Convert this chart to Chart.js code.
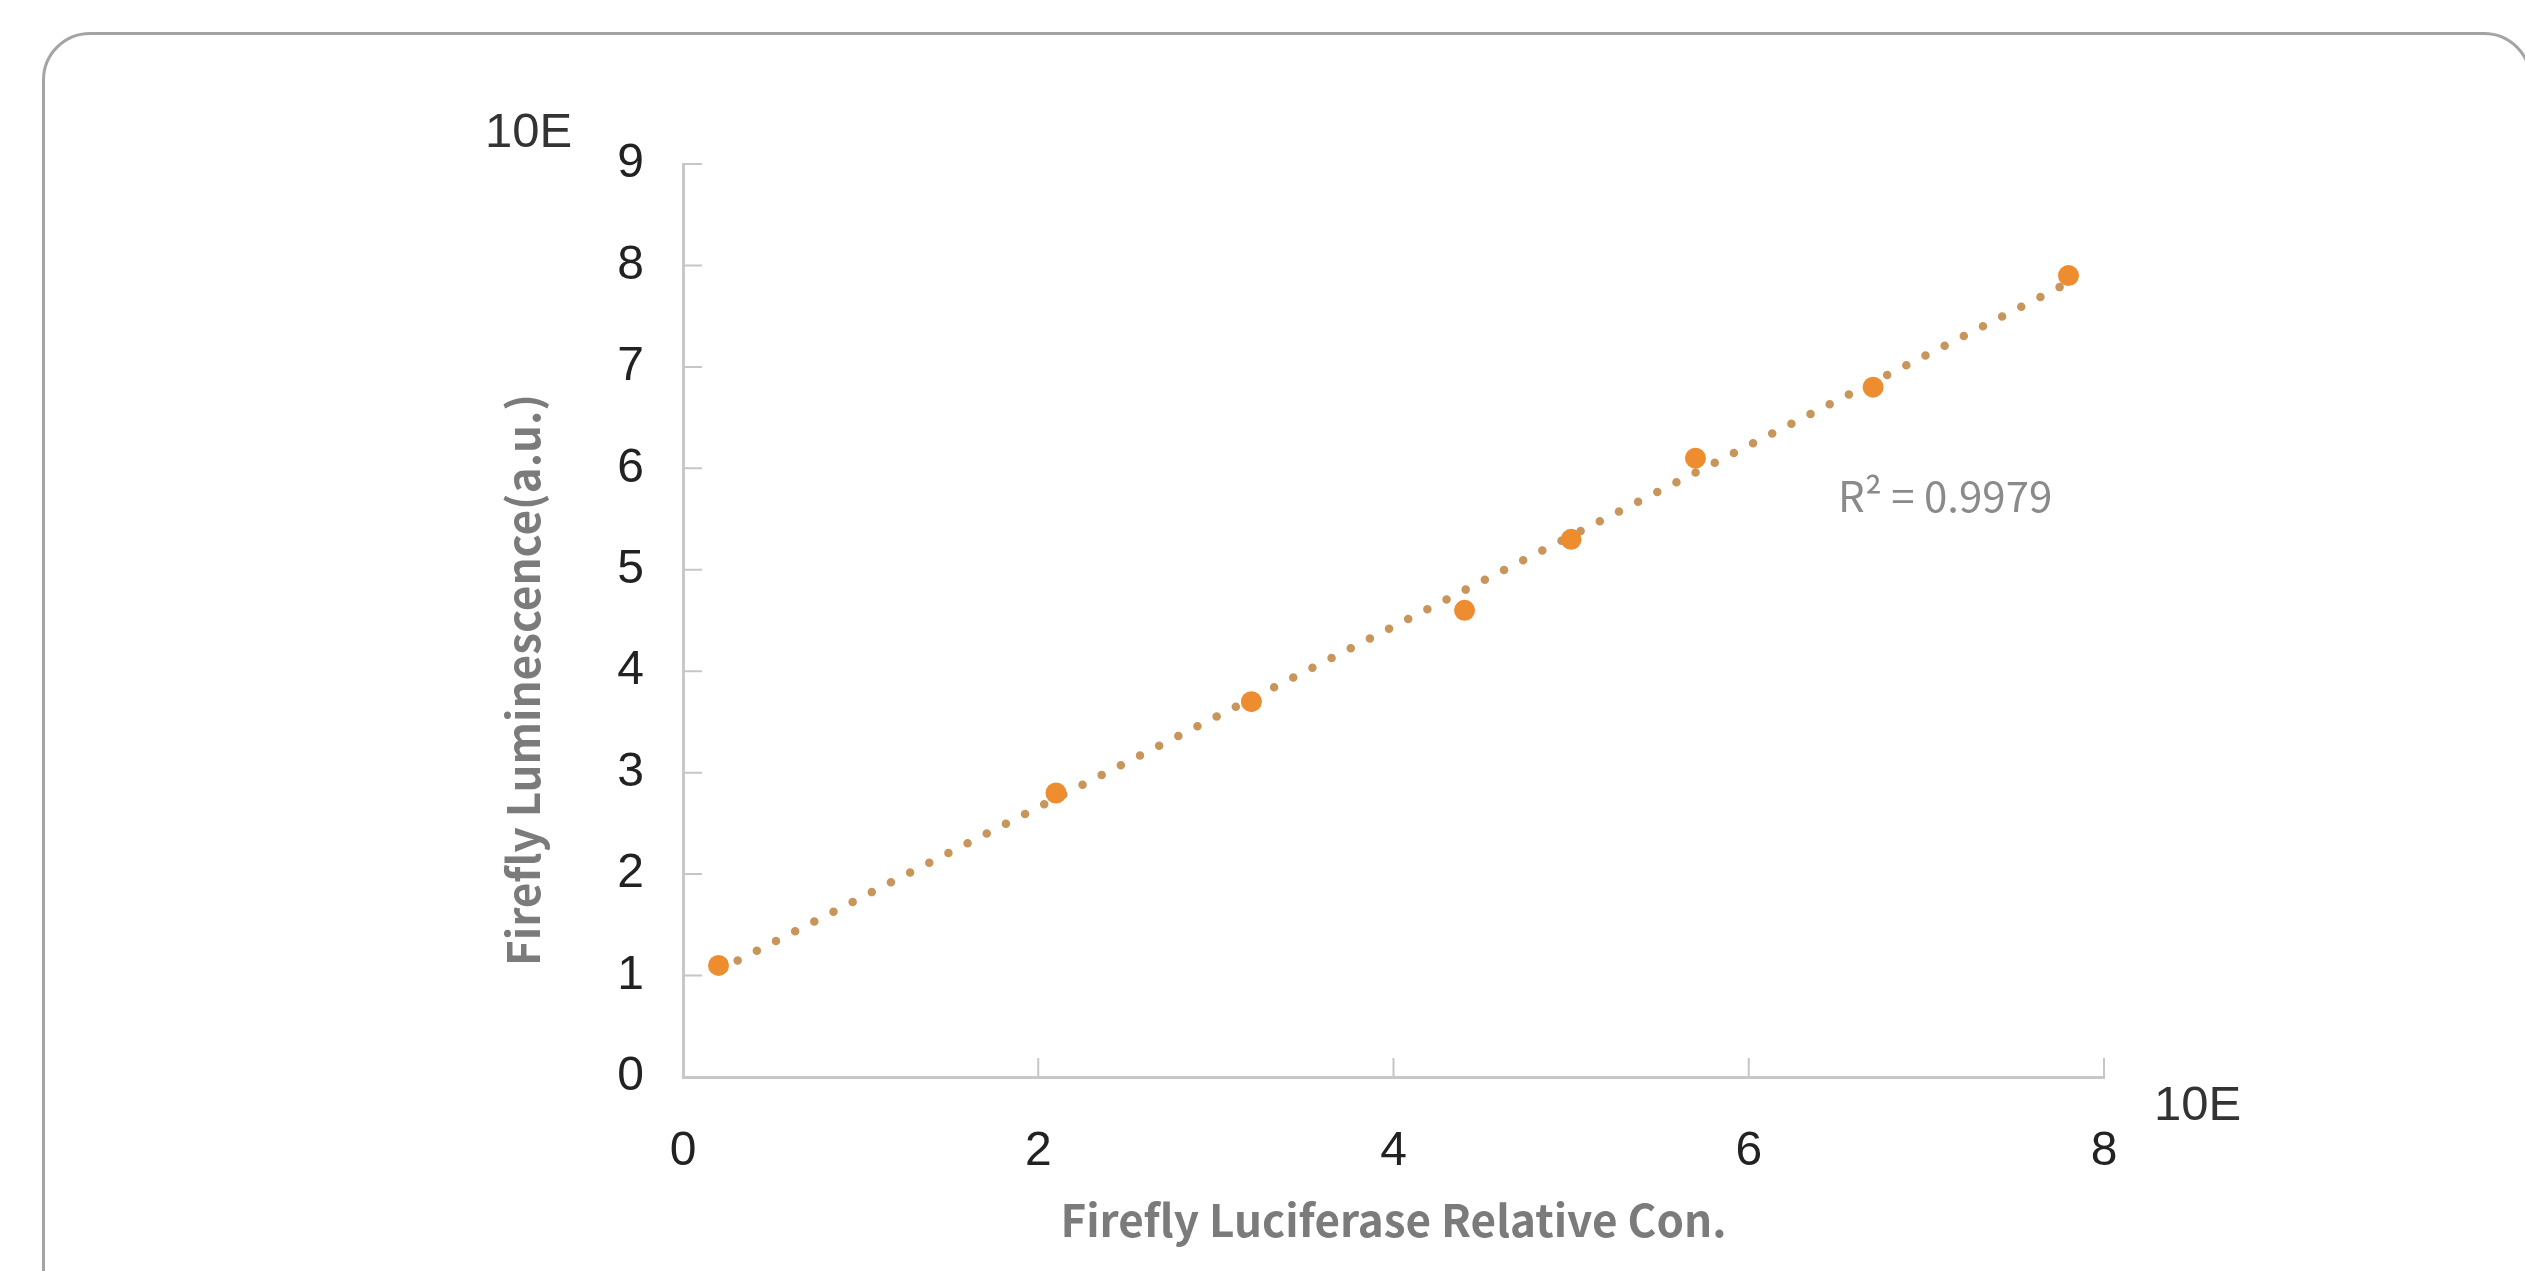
<!DOCTYPE html>
<html>
<head>
<meta charset="utf-8">
<script src="https://cdn.jsdelivr.net/npm/chart.js@4.4.1/dist/chart.umd.min.js"></script>
<style>
  html, body { margin: 0; padding: 0; background: #fff; overflow: hidden; }
  #card {
    position: absolute; left: 42px; top: 32px; width: 2490px; height: 1320px;
    border: 3px solid #a4a4a4; border-radius: 48px; box-sizing: border-box;
  }
  #wrap { position: absolute; left: 0; top: 0; width: 2525px; height: 1271px; }
</style>
</head>
<body>
<div id="card"></div>
<div id="wrap"><canvas id="curveChart" width="2525" height="1271"></canvas></div>
<script>
// relative concentration (10E) vs luminescence (10E)
const concentration = [0.2, 2.1, 3.2, 4.4, 5.0, 5.7, 6.7, 7.8];
const luminescence = [1.1, 2.8, 3.7, 4.6, 5.3, 6.1, 6.8, 7.9];
const xTicks = [0, 2, 4, 6, 8];
const yTicks = [0, 1, 2, 3, 4, 5, 6, 7, 8, 9];
const rSquared = "R\u00b2 = 0.9979";

// least squares fit for the dotted trendline
function linearFit(xs, ys) {
    let n = xs.length;
    let mx = xs.reduce((a, b) => a + b, 0) / n;
    let my = ys.reduce((a, b) => a + b, 0) / n;
    let sxy = 0, sxx = 0;
    for (let i = 0; i < n; i++) {
        sxy += (xs[i] - mx) * (ys[i] - my);
        sxx += (xs[i] - mx) * (xs[i] - mx);
    }
    let slope = sxy / sxx;
    return { slope: slope, intercept: my - slope * mx };
}

const fit = linearFit(concentration, luminescence);
const xFirst = concentration[0];
const xLast = concentration[concentration.length - 1];
const trendPoints = [
    { x: xFirst, y: fit.intercept + fit.slope * xFirst },
    { x: xLast, y: fit.intercept + fit.slope * xLast }
];
const points = concentration.map((x, i) => ({ x: x, y: luminescence[i] }));

const tickFont = "'Liberation Sans', Arial, sans-serif";
const titleFont = "'Noto Sans CJK SC', 'Noto Sans', sans-serif";

// short tick marks pointing into the plot, plus the extra labels
const decorations = {
    id: 'decorations',
    beforeDatasetsDraw(chart) {
        let ctx = chart.ctx;
        let xs = chart.scales.x, ys = chart.scales.y;
        let area = chart.chartArea;
        ctx.save();
        ctx.strokeStyle = '#c6c6c6';
        ctx.lineWidth = 2;
        ctx.beginPath();
        xTicks.forEach(v => {
            if (v === 0) return;
            let px = xs.getPixelForValue(v);
            ctx.moveTo(px, area.bottom);
            ctx.lineTo(px, area.bottom - 19);
        });
        yTicks.forEach(v => {
            if (v === 0) return;
            let py = ys.getPixelForValue(v);
            ctx.moveTo(area.left, py);
            ctx.lineTo(area.left + 19, py);
        });
        ctx.stroke();
        ctx.restore();
    },
    afterDraw(chart) {
        let ctx = chart.ctx;
        let area = chart.chartArea;
        ctx.save();
        ctx.fillStyle = '#333';
        ctx.font = "49px " + tickFont;
        ctx.textBaseline = 'middle';
        ctx.textAlign = 'left';
        ctx.fillText("10E", area.left - 198, area.top - 31);
        ctx.fillText("10E", area.right + 50, area.bottom + 29);

        ctx.fillStyle = '#8a8a8a';
        ctx.font = "42px " + titleFont;
        ctx.fillText(rSquared, 1838, 496);

        ctx.translate(523, 680);
        ctx.rotate(-Math.PI / 2);
        ctx.textAlign = 'center';
        ctx.fillStyle = '#7b7b7b';
        ctx.font = "bold 44px " + titleFont;
        ctx.fillText("Firefly Luminescence(a.u.)", 0, 0);
        ctx.restore();
    }
};

new Chart(document.getElementById('curveChart').getContext('2d'), {
    type: 'scatter',
    data: {
        datasets: [
            {
                label: 'Firefly',
                data: points,
                backgroundColor: '#ee8c30',
                borderColor: '#ee8c30',
                pointRadius: 10.5,
                pointBorderWidth: 0,
                order: 1
            },
            {
                label: 'Trend',
                data: trendPoints,
                showLine: true,
                borderColor: '#c8955b',
                borderWidth: 8.5,
                borderCapStyle: 'round',
                borderDash: [0, 21.5],
                pointRadius: 0,
                order: 2
            }
        ]
    },
    options: {
        responsive: false,
        animation: false,
        layout: { padding: { top: 164, right: 421, left: 0, bottom: 0 } },
        plugins: {
            legend: { display: false },
            tooltip: { enabled: false }
        },
        scales: {
            x: {
                type: 'linear',
                min: 0,
                max: 8,
                afterFit: s => { s.height = 194; },
                afterBuildTicks: s => { s.ticks = xTicks.map(v => ({ value: v })); },
                grid: { display: false },
                border: { display: true, color: '#c8c8c8', width: 3 },
                ticks: {
                    padding: 38,
                    color: '#222',
                    font: { family: tickFont, size: 48 }
                },
                title: {
                    display: true,
                    text: 'Firefly Luciferase Relative Con.',
                    color: '#7b7b7b',
                    font: { family: titleFont, size: 44, weight: 'bold' },
                    padding: { top: 0, bottom: 24 }
                }
            },
            y: {
                type: 'linear',
                min: 0,
                max: 9,
                afterFit: s => { s.width = 683; },
                afterBuildTicks: s => { s.ticks = yTicks.map(v => ({ value: v })); },
                grid: { display: false },
                border: { display: true, color: '#c8c8c8', width: 3 },
                ticks: {
                    padding: 31,
                    color: '#222',
                    font: { family: tickFont, size: 48 }
                }
            }
        }
    },
    plugins: [decorations]
});
</script>
</body>
</html>
